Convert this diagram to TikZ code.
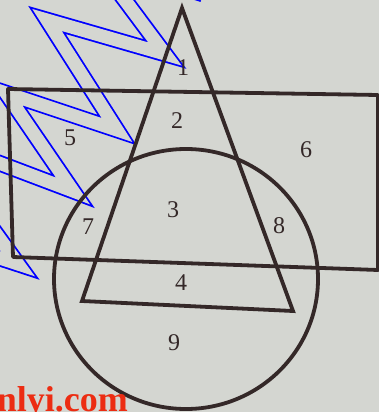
\documentclass[tikz,border=0pt]{standalone}
\usepackage{fontspec}
\setmainfont{Liberation Serif}
\definecolor{paper}{RGB}{212,214,209}
\definecolor{ink}{RGB}{52,40,40}
\definecolor{stamp}{RGB}{236,44,18}

\begin{document}
\begin{tikzpicture}[x=1pt,y=-1pt,
  edge/.style={draw=ink,line width=3.8pt,line join=round},
  num/.style={font=\fontsize{24}{24}\selectfont,text=ink,inner sep=0pt},
  wmark/.style={draw=blue,line width=1.8pt,double=paper,double distance=13pt,line join=miter}]
\fill[paper] (0,0) rectangle (379,412);
\useasboundingbox (0,0) rectangle (379,412);

% watermark
\draw[wmark] (203,-6) -- (95,-40) -- (165,54) -- (47,20) -- (117,130)
  -- (6,93) -- (73,191) -- (-75,135) -- (18,264) -- (-80,232);

\coordinate (A) at (182,8);
\coordinate (B) at (82,301);
\coordinate (C) at (293,311);

\coordinate (R1) at (8,89);
\coordinate (R2) at (378,95);
\coordinate (R3) at (378,270);
\coordinate (R4) at (13,257);

\coordinate (O) at (186,279);

\draw[edge] (R1) -- (R2) -- (R3) -- (R4) -- cycle;
\draw[edge] (O) ellipse [x radius=132, y radius=130];
\draw[edge,line join=miter] (A) -- (B) -- (C) -- cycle;

\node[num] (n1) at (183,68) {1};
\node[num] (n2) at (177,121) {2};
\node[num] (n3) at (173,210) {3};
\node[num] (n4) at (181,283) {4};
\node[num] (n5) at (70,138) {5};
\node[num] (n6) at (306,150) {6};
\node[num] (n7) at (88,227) {7};
\node[num] (n8) at (279,226) {8};
\node[num] (n9) at (174,343) {9};

\node[anchor=base east,inner sep=0pt,text=stamp,font=\bfseries\fontsize{36}{36}\selectfont] (site) at (128,411) {nlyi.com};
\end{tikzpicture}
\end{document}
